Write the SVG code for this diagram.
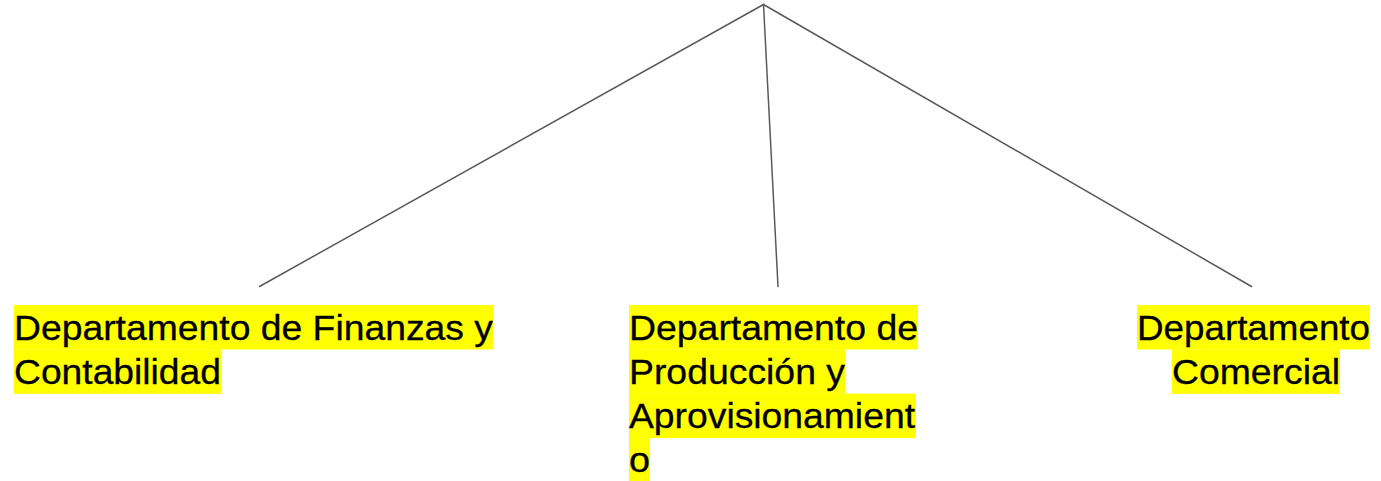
<svg xmlns="http://www.w3.org/2000/svg" width="1381" height="481" viewBox="0 0 1381 481">
<style>
.hl{fill:#ffff00}
.t{font-family:"Liberation Sans",Arial,sans-serif;font-size:34.5px;fill:#000;stroke:#000;stroke-width:0.3}
.c{stroke:#595959;stroke-width:1.5;fill:none;stroke-linecap:round}
</style>
<rect width="1381" height="481" fill="#fff"/>
<g id="connectors">
<line class="c" x1="763.5" y1="4.5" x2="259.5" y2="286.5"/>
<line class="c" x1="763.5" y1="4.5" x2="778" y2="286.5"/>
<line class="c" x1="763.5" y1="4.5" x2="1251.5" y2="286.5"/>
</g>
<g id="node-finanzas">
<rect class="hl" x="14" y="305" width="479" height="44.5"/>
<rect class="hl" x="14" y="349.3" width="207.5" height="44.5"/>
<text class="t" x="14" y="339.5" textLength="479" lengthAdjust="spacingAndGlyphs">Departamento de Finanzas y</text>
<text class="t" x="14" y="383.8" textLength="207" lengthAdjust="spacingAndGlyphs">Contabilidad</text>
</g>
<g id="node-produccion">
<rect class="hl" x="629" y="305" width="289" height="44.5"/>
<rect class="hl" x="629" y="349.3" width="216" height="44.5"/>
<rect class="hl" x="629" y="393.6" width="287" height="44.5"/>
<rect class="hl" x="629" y="437.9" width="21" height="44"/>
<text class="t" x="629" y="339.5" textLength="289" lengthAdjust="spacingAndGlyphs">Departamento de</text>
<text class="t" x="629" y="383.8" textLength="216" lengthAdjust="spacingAndGlyphs">Producción y</text>
<text class="t" x="629" y="428.1" textLength="286" lengthAdjust="spacingAndGlyphs">Aprovisionamient</text>
<text class="t" x="629" y="472.4" textLength="21" lengthAdjust="spacingAndGlyphs">o</text>
</g>
<g id="node-comercial">
<rect class="hl" x="1137" y="305" width="233" height="44.5"/>
<rect class="hl" x="1172" y="349.3" width="168" height="44.5"/>
<text class="t" x="1137" y="339.5" textLength="233" lengthAdjust="spacingAndGlyphs">Departamento</text>
<text class="t" x="1172" y="383.8" textLength="168" lengthAdjust="spacingAndGlyphs">Comercial</text>
</g>
</svg>
